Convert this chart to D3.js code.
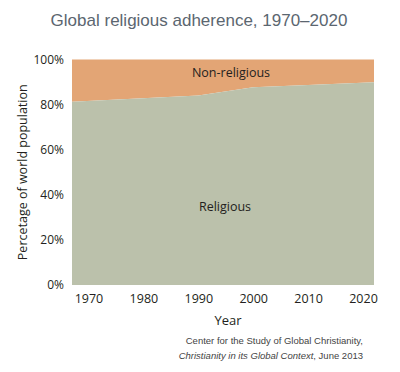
<!DOCTYPE html>
<html>
<head>
<meta charset="utf-8">
<script src="https://cdn.jsdelivr.net/npm/d3@7"></script>
<style>
  body { margin: 0; background: #fff; }
  text { font-family: "Open Sans", sans-serif; fill: #231f20; }
  text.src { font-family: "Liberation Sans", Arial, sans-serif; fill: #444; }
</style>
</head>
<body>
<svg id="chart"></svg>
<script>
// share of world population
const years = [1967, 1990, 2000, 2010, 2022];
const religious = [81.3, 84.0, 87.7, 88.7, 89.9];
const yTicks = [0, 20, 40, 60, 80, 100];
const xTicks = [1970, 1980, 1990, 2000, 2010, 2020];

let win = {w: 400, h: 372};
let margin = {top: 59.5, right: 26, bottom: 87, left: 72};

const svg = d3.select("#chart")
  .attr("width", win.w)
  .attr("height", win.h);

let x = d3.scaleLinear()
  .domain([1967, 2022])
  .range([margin.left, win.w - margin.right]);
let y = d3.scaleLinear()
  .domain([0, 100])
  .range([win.h - margin.bottom, margin.top]);

let rows = years.map((yr, i) => ({year: yr, rel: religious[i]}));

// non-religious on top (fills down to religious line)
svg.append("path")
  .datum(rows)
  .attr("fill", "#e3a575")
  .attr("d", d3.area()
    .x(d => x(d.year))
    .y0(d => y(d.rel))
    .y1(y(100)));

svg.append("path")
  .datum(rows)
  .attr("fill", "#bbc1ab")
  .attr("d", d3.area()
    .x(d => x(d.year))
    .y0(y(0))
    .y1(d => y(d.rel)));

// axes
const yAxis = svg.append("g")
  .attr("transform", `translate(${margin.left},0)`)
  .call(d3.axisLeft(y).tickValues(yTicks).tickFormat(d => d + "%").tickSize(0).tickPadding(8));
yAxis.select(".domain").remove();
yAxis.selectAll("text").attr("font-size", 12).attr("font-family", "Open Sans");

const xAxis = svg.append("g")
  .attr("transform", `translate(0,${y(0)})`)
  .call(d3.axisBottom(x).tickValues(xTicks).tickFormat(d3.format("d")).tickSize(0).tickPadding(9));
xAxis.select(".domain").remove();
xAxis.selectAll("text").attr("font-size", 12.5).attr("font-family", "Open Sans");

// area labels
svg.append("text")
  .attr("x", 231).attr("y", 77)
  .attr("text-anchor", "middle")
  .attr("font-size", 12.5)
  .text("Non-religious");

svg.append("text")
  .attr("x", 225).attr("y", 211)
  .attr("text-anchor", "middle")
  .attr("font-size", 12.5)
  .text("Religious");

// titles
svg.append("text")
  .attr("x", 199).attr("y", 26)
  .attr("text-anchor", "middle")
  .attr("font-size", 17)
  .style("font-family", "Liberation Sans, Arial, sans-serif")
  .style("fill", "#5b6670")
  .text("Global religious adherence, 1970\u20132020");

svg.append("text")
  .attr("transform", `translate(27,${(y(0) + y(100)) / 2}) rotate(-90)`)
  .attr("text-anchor", "middle")
  .attr("font-size", 12.5)
  .text("Percetage of world population");

svg.append("text")
  .attr("x", 228).attr("y", 325)
  .attr("text-anchor", "middle")
  .attr("font-size", 13)
  .text("Year");

// source note
svg.append("text")
  .attr("class", "src")
  .attr("x", 363).attr("y", 344)
  .attr("text-anchor", "end")
  .attr("font-size", 9.5)
  .text("Center for the Study of Global Christianity,");
const line2 = svg.append("text")
  .attr("class", "src")
  .attr("x", 363).attr("y", 359)
  .attr("text-anchor", "end")
  .attr("font-size", 9.5);
line2.append("tspan").attr("font-style", "italic").text("Christianity in its Global Context");
line2.append("tspan").text(", June 2013");
</script>
</body>
</html>
